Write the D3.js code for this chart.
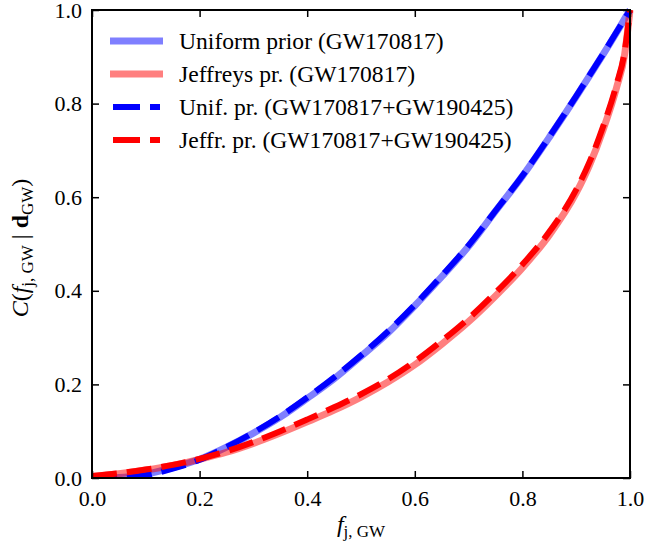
<!DOCTYPE html>
<html>
<head>
<meta charset="utf-8">
<script src="https://cdn.jsdelivr.net/npm/d3@7"></script>
<style>
  html, body { margin: 0; padding: 0; background: #fff; }
  svg { display: block; }
  svg text { font-family: "Liberation Serif", "Times New Roman", serif; fill: #000; }
</style>
</head>
<body>
<svg id="chart" width="670" height="549"></svg>
<script>
// Cumulative distributions C(f_j,GW | d_GW) for the two priors
const fGrid = [0, 0.05, 0.1, 0.15, 0.2, 0.25, 0.3, 0.35, 0.4, 0.45, 0.5, 0.55, 0.6, 0.65, 0.7, 0.75, 0.8, 0.85, 0.9, 0.925, 0.95, 0.975, 0.99, 1.0];

const uniformGW170817 = [0, 0.001, 0.008, 0.022, 0.04, 0.066, 0.096, 0.13, 0.17, 0.212, 0.26, 0.31, 0.368, 0.43, 0.495, 0.57, 0.645, 0.728, 0.815, 0.86, 0.905, 0.952, 0.981, 1.0];
const jeffreysGW170817 = [0.003, 0.009, 0.017, 0.027, 0.04, 0.055, 0.074, 0.096, 0.12, 0.145, 0.173, 0.205, 0.242, 0.286, 0.334, 0.389, 0.449, 0.519, 0.609, 0.669, 0.744, 0.834, 0.905, 1.0];
const uniformCombined = [0, 0.0, 0.006, 0.02, 0.039, 0.066, 0.097, 0.132, 0.172, 0.215, 0.262, 0.313, 0.37, 0.432, 0.497, 0.571, 0.646, 0.729, 0.816, 0.861, 0.906, 0.953, 0.981, 1.0];
const jeffreysCombined = [0.004, 0.01, 0.018, 0.028, 0.041, 0.057, 0.077, 0.1, 0.125, 0.151, 0.179, 0.211, 0.249, 0.293, 0.341, 0.396, 0.456, 0.526, 0.616, 0.676, 0.751, 0.841, 0.911, 1.0];

const xTicks = [0, 0.2, 0.4, 0.6, 0.8, 1.0];
const yTicks = [0, 0.2, 0.4, 0.6, 0.8, 1.0];

const legendLabels = [
  "Uniform prior (GW170817)",
  "Jeffreys pr. (GW170817)",
  "Unif. pr. (GW170817+GW190425)",
  "Jeffr. pr. (GW170817+GW190425)"
];

const margin = { left: 92, right: 40, top: 10, bottom: 71 };
const W = 670, H = 549;
const iw = W - margin.left - margin.right;
const ih = H - margin.top - margin.bottom;

const svg = d3.select("#chart");
const g = svg.append("g").attr("transform", `translate(${margin.left},${margin.top})`);

const x = d3.scaleLinear().domain([0, 1]).range([0, iw]);
const y = d3.scaleLinear().domain([0, 1]).range([ih, 0]);

svg.append("defs").append("clipPath").attr("id", "plotClip")
  .append("rect").attr("x", 0).attr("y", -4).attr("width", iw + 4).attr("height", ih + 4);

const line = d3.line().x(d => x(d[0])).y(d => y(d[1])).curve(d3.curveMonotoneX);
const pairs = vals => fGrid.map((f, i) => [f, vals[i]]);

const series = [
  { vals: uniformGW170817, color: "#0000ff", opacity: 0.5, width: 7, dash: null },
  { vals: jeffreysGW170817, color: "#ff0000", opacity: 0.5, width: 7, dash: null },
  { vals: uniformCombined, color: "#0000ff", opacity: 1, width: 6, dash: "25 10" },
  { vals: jeffreysCombined, color: "#ff0000", opacity: 1, width: 6, dash: "25 10" }
];

const curves = g.append("g").attr("clip-path", "url(#plotClip)");
series.forEach(s => {
  curves.append("path")
    .datum(pairs(s.vals))
    .attr("d", line)
    .attr("fill", "none")
    .attr("stroke", s.color)
    .attr("stroke-opacity", s.opacity)
    .attr("stroke-width", s.width)
    .attr("stroke-dasharray", s.dash);
});

// Axes with inward ticks on all four sides
const tickLen = 7;
const fmt = d3.format(".1f");
const axB = g.append("g").attr("transform", `translate(0,${ih})`)
  .call(d3.axisBottom(x).tickValues(xTicks).tickSize(-tickLen).tickPadding(12).tickFormat(fmt));
const axT = g.append("g")
  .call(d3.axisTop(x).tickValues(xTicks).tickSize(-tickLen).tickFormat(""));
const axL = g.append("g")
  .call(d3.axisLeft(y).tickValues(yTicks).tickSize(-tickLen).tickPadding(10).tickFormat(fmt));
const axR = g.append("g").attr("transform", `translate(${iw},0)`)
  .call(d3.axisRight(y).tickValues(yTicks).tickSize(-tickLen).tickFormat(""));

[axB, axT, axL, axR].forEach(a => {
  a.attr("font-family", null);
  a.select(".domain").remove();
  a.selectAll(".tick line").attr("stroke", "#000").attr("stroke-width", 1.5);
  a.selectAll(".tick text").attr("font-size", 22);
});
axB.selectAll(".tick text").attr("dy", "0.71em").attr("y", 12);

g.append("rect")
  .attr("x", 0).attr("y", 0).attr("width", iw).attr("height", ih)
  .attr("fill", "none").attr("stroke", "#000").attr("stroke-width", 2);

// Legend
const leg = g.append("g").attr("transform", "translate(18,31)");
legendLabels.forEach((lab, i) => {
  const s = series[i];
  const row = leg.append("g").attr("transform", `translate(0,${i * 33})`);
  if (s.dash) {
    row.append("line").attr("x1", 3).attr("x2", 50).attr("y1", 0).attr("y2", 0)
      .attr("stroke", s.color).attr("stroke-width", s.width).attr("stroke-dasharray", "27 10");
  } else {
    row.append("line").attr("x1", 0).attr("x2", 53).attr("y1", 0).attr("y2", 0)
      .attr("stroke", s.color).attr("stroke-opacity", s.opacity).attr("stroke-width", s.width);
  }
  row.append("text").attr("x", 69).attr("y", 8).attr("font-size", 23.6).text(lab);
});

// X axis label: f_{j, GW}
const xl = svg.append("text")
  .attr("x", margin.left + iw / 2).attr("y", 532)
  .attr("text-anchor", "middle").attr("font-size", 24);
xl.append("tspan").attr("font-style", "italic").text("f");
xl.append("tspan").attr("font-size", 17).attr("dy", 5).text("j, GW");

// Y axis label: C(f_{j, GW} | d_GW)
const yl = svg.append("text")
  .attr("transform", `translate(28,${margin.top + ih / 2 + 4}) rotate(-90)`)
  .attr("text-anchor", "middle").attr("font-size", 24);
yl.append("tspan").attr("font-style", "italic").text("C");
yl.append("tspan").text("(");
yl.append("tspan").attr("font-style", "italic").text("f");
yl.append("tspan").attr("font-size", 17).attr("dy", 5).text("j, GW");
yl.append("tspan").attr("dy", -5).text(" | ");
yl.append("tspan").attr("font-weight", "bold").text("d");
yl.append("tspan").attr("font-size", 17).attr("dy", 5).text("GW");
yl.append("tspan").attr("dy", -5).text(")");
</script>
</body>
</html>
